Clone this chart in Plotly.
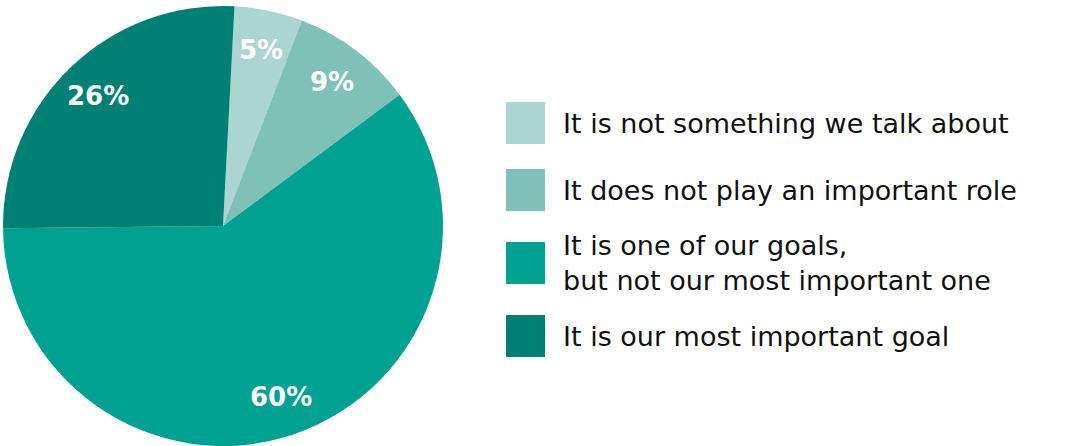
import math
import plotly.graph_objects as go

# Survey answers and their shares (percent)
labels = [
    "It is not something we talk about",
    "It does not play an important role",
    "It is one of our goals,<br>but not our most important one",
    "It is our most important goal",
]
values = [5, 9, 60, 26]
colors = ["#AAD5D0", "#7FC0B7", "#00A190", "#007F73"]

W, H = 1071, 446
FONT = "DejaVu Sans"

# Pie geometry (pixels) and start angle (degrees clockwise from 12 o'clock)
cx, cy, R = 223, 226, 220
ROT = 3

fig = go.Figure(
    go.Pie(
        labels=labels,
        values=values,
        sort=False,
        direction="clockwise",
        rotation=ROT,
        marker=dict(colors=colors, line=dict(width=0)),
        textinfo="none",
        hoverinfo="label+percent",
        showlegend=False,
        domain=dict(
            x=[(cx - R) / W, (cx + R) / W],
            y=[(H - cy - R) / H, (H - cy + R) / H],
        ),
    )
)

annotations = []
shapes = []

# Percentage labels placed along each slice's mid-angle
total = sum(values)
cum = 0
for v in values:
    mid = math.radians(ROT) + (cum + v / 2) / total * 2 * math.pi
    cum += v
    r = 0.82 * R
    px = cx + r * math.sin(mid)
    py = cy - r * math.cos(mid)
    annotations.append(
        dict(
            x=px / W, y=(H - py) / H, xref="paper", yref="paper",
            text=f"<b>{v}%</b>", showarrow=False,
            font=dict(family=FONT, size=26, color="white"),
            xanchor="center", yanchor="middle",
        )
    )

# Custom legend with large colour swatches
legend_y = [123, 190, 263, 336]
sq_x0, sq_x1, half = 506, 545, 21
text_x = 561
for lab, col, yc in zip(labels, colors, legend_y):
    shapes.append(
        dict(
            type="rect", xref="paper", yref="paper",
            x0=sq_x0 / W, x1=sq_x1 / W,
            y0=(H - yc - half) / H, y1=(H - yc + half) / H,
            fillcolor=col, line=dict(width=0),
        )
    )
    annotations.append(
        dict(
            x=text_x / W, y=(H - yc) / H, xref="paper", yref="paper",
            text=lab, showarrow=False, align="left",
            font=dict(family=FONT, size=27, color="#111111"),
            xanchor="left", yanchor="middle",
        )
    )

fig.update_layout(
    width=W, height=H,
    margin=dict(l=0, r=0, t=0, b=0),
    paper_bgcolor="white", plot_bgcolor="white",
    annotations=annotations, shapes=shapes,
)

fig.write_html("out.html")
